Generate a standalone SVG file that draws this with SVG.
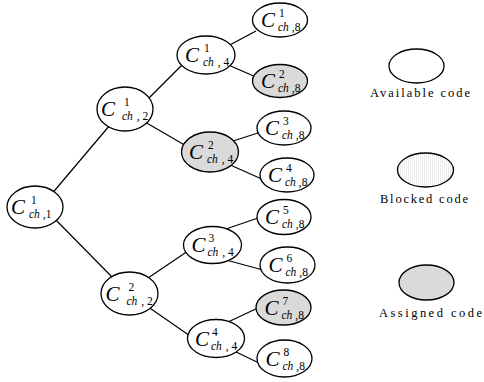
<svg xmlns="http://www.w3.org/2000/svg" width="484" height="382" viewBox="0 0 484 382">
  <defs>
    <pattern id="hatch" width="2" height="4" patternUnits="userSpaceOnUse">
      <rect width="2" height="4" fill="#ffffff"/>
      <rect width="1" height="4" fill="#ececec"/>
    </pattern>
  </defs>
  <style>
    .n { stroke: #000; stroke-width: 1.3; fill: #fff; }
    .g { fill: #dadada; }
    .b { fill: url(#hatch); }
    .e { stroke: #000; stroke-width: 1.2; fill: none; }
    text { font-family: "Liberation Serif", "Times New Roman", "DejaVu Serif", serif; fill: #000; }
    .C { font-style: italic; font-size: 21px; }
    .s { font-size: 11.5px; }
    .i { font-style: italic; }
    .lg { font-size: 12.5px; }
  </style>

  <g id="connectors">
    <line class="e" x1="50" y1="196" x2="110" y2="125"/>
    <line class="e" x1="52" y1="216" x2="112" y2="277"/>
    <line class="e" x1="146" y1="101" x2="184" y2="63"/>
    <line class="e" x1="145" y1="122" x2="188" y2="147"/>
    <line class="e" x1="226" y1="47" x2="256" y2="31"/>
    <line class="e" x1="226" y1="64" x2="256" y2="77"/>
    <line class="e" x1="230" y1="142" x2="261" y2="132"/>
    <line class="e" x1="228" y1="164" x2="264" y2="180"/>
    <line class="e" x1="148" y1="278" x2="188" y2="251"/>
    <line class="e" x1="144" y1="304" x2="193" y2="338"/>
    <line class="e" x1="223" y1="230" x2="261" y2="217"/>
    <line class="e" x1="226" y1="260" x2="263" y2="270"/>
    <line class="e" x1="228" y1="322" x2="260" y2="307"/>
    <line class="e" x1="232" y1="350" x2="261" y2="364"/>
  </g>

  <!-- level 1 -->
  <g id="c1_1" transform="translate(35,207)">
    <ellipse class="n" rx="28" ry="21"/>
    <text class="C" x="-24" y="7">C</text>
    <text class="s" x="-4" y="-3">1</text>
    <text class="s" x="-6" y="11"><tspan class="i">ch</tspan><tspan dx="3">,1</tspan></text>
  </g>

  <!-- level 2 -->
  <g id="c1_2" transform="translate(125,109)">
    <ellipse class="n" rx="28" ry="22"/>
    <text class="C" x="-24" y="7">C</text>
    <text class="s" x="-1" y="-3">1</text>
    <text class="s" x="-3" y="11"><tspan class="i">ch</tspan><tspan dx="4">, 2</tspan></text>
  </g>
  <g id="c2_2" transform="translate(129.5,293.5)">
    <ellipse class="n" rx="28.5" ry="21.5"/>
    <text class="C" x="-24" y="7">C</text>
    <text class="s" x="-1" y="-3">2</text>
    <text class="s" x="-3" y="11"><tspan class="i">ch</tspan><tspan dx="4">, 2</tspan></text>
  </g>

  <!-- level 4 -->
  <g id="c1_4" transform="translate(206,55)">
    <ellipse class="n" rx="29" ry="19"/>
    <text class="C" x="-21" y="7">C</text>
    <text class="s" x="-2" y="-3">1</text>
    <text class="s" x="-3" y="11"><tspan class="i">ch</tspan><tspan dx="4">, 4</tspan></text>
  </g>
  <g id="c2_4" transform="translate(210,152)">
    <ellipse class="n g" rx="28.5" ry="20"/>
    <text class="C" x="-21" y="7">C</text>
    <text class="s" x="-2" y="-3">2</text>
    <text class="s" x="-3" y="11"><tspan class="i">ch</tspan><tspan dx="4">, 4</tspan></text>
  </g>
  <g id="c3_4" transform="translate(212.5,245)">
    <ellipse class="n" rx="29" ry="18.5"/>
    <text class="C" x="-21" y="7">C</text>
    <text class="s" x="-4" y="-3">3</text>
    <text class="s" x="-5" y="11"><tspan class="i">ch</tspan><tspan dx="4">, 4</tspan></text>
  </g>
  <g id="c4_4" transform="translate(216,338.5)">
    <ellipse class="n" rx="28.5" ry="19"/>
    <text class="C" x="-21" y="7">C</text>
    <text class="s" x="-4" y="-3">4</text>
    <text class="s" x="-5" y="11"><tspan class="i">ch</tspan><tspan dx="4">, 4</tspan></text>
  </g>

  <!-- level 8 -->
  <g id="c1_8" transform="translate(280,20)">
    <ellipse class="n" rx="27.5" ry="17"/>
    <text class="C" x="-19" y="7">C</text>
    <text class="s" x="-1" y="-3">1</text>
    <text class="s" x="-2" y="11"><tspan class="i">ch</tspan><tspan dx="3">,8</tspan></text>
  </g>
  <g id="c2_8" transform="translate(280,81)">
    <ellipse class="n g" rx="27.5" ry="16.5"/>
    <text class="C" x="-19" y="7">C</text>
    <text class="s" x="-1" y="-3">2</text>
    <text class="s" x="-2" y="11"><tspan class="i">ch</tspan><tspan dx="3">,8</tspan></text>
  </g>
  <g id="c3_8" transform="translate(284,128)">
    <ellipse class="n" rx="27" ry="17"/>
    <text class="C" x="-19" y="7">C</text>
    <text class="s" x="-1" y="-3">3</text>
    <text class="s" x="-2" y="11"><tspan class="i">ch</tspan><tspan dx="3">,8</tspan></text>
  </g>
  <g id="c4_8" transform="translate(287,175)">
    <ellipse class="n" rx="27" ry="17"/>
    <text class="C" x="-19" y="7">C</text>
    <text class="s" x="-1" y="-3">4</text>
    <text class="s" x="-2" y="11"><tspan class="i">ch</tspan><tspan dx="3">,8</tspan></text>
  </g>
  <g id="c5_8" transform="translate(284,217)">
    <ellipse class="n" rx="27" ry="17.5"/>
    <text class="C" x="-19" y="7">C</text>
    <text class="s" x="-1" y="-3">5</text>
    <text class="s" x="-2" y="11"><tspan class="i">ch</tspan><tspan dx="3">,8</tspan></text>
  </g>
  <g id="c6_8" transform="translate(287.5,265)">
    <ellipse class="n" rx="27.5" ry="18"/>
    <text class="C" x="-19" y="7">C</text>
    <text class="s" x="-1" y="-3">6</text>
    <text class="s" x="-2" y="11"><tspan class="i">ch</tspan><tspan dx="3">,8</tspan></text>
  </g>
  <g id="c7_8" transform="translate(283.5,307.5)">
    <ellipse class="n g" rx="27.5" ry="17.5"/>
    <text class="C" x="-19" y="7">C</text>
    <text class="s" x="-1" y="-3">7</text>
    <text class="s" x="-2" y="11"><tspan class="i">ch</tspan><tspan dx="3">,8</tspan></text>
  </g>
  <g id="c8_8" transform="translate(284.5,358.5)">
    <ellipse class="n" rx="27.5" ry="18.5"/>
    <text class="C" x="-19" y="7">C</text>
    <text class="s" x="-1" y="-3">8</text>
    <text class="s" x="-2" y="11"><tspan class="i">ch</tspan><tspan dx="3">,8</tspan></text>
  </g>

  <!-- legend -->
  <g id="legend-available">
    <ellipse class="n" cx="416.5" cy="66" rx="27.5" ry="17"/>
    <text class="lg" x="370" y="97" textLength="100" lengthAdjust="spacing">Available code</text>
  </g>
  <g id="legend-blocked">
    <ellipse class="n b" cx="425.5" cy="170" rx="28" ry="17"/>
    <text class="lg" x="380" y="203" textLength="88" lengthAdjust="spacing">Blocked code</text>
  </g>
  <g id="legend-assigned">
    <ellipse class="n g" cx="426.5" cy="282.5" rx="27.5" ry="17.5"/>
    <text class="lg" x="379" y="317" textLength="103" lengthAdjust="spacing">Assigned code</text>
  </g>
</svg>
